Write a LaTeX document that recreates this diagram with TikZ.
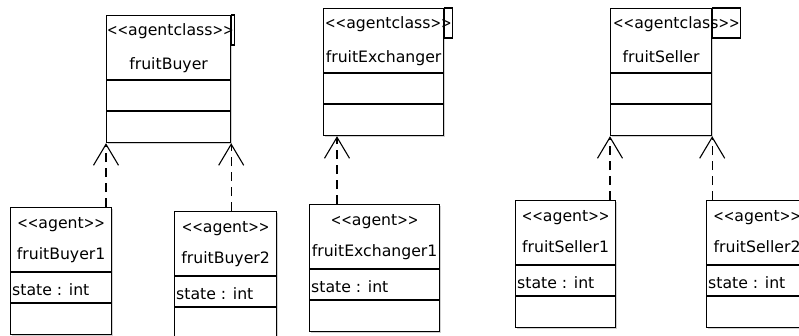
\documentclass[tikz,border=0pt]{standalone}
\usepackage{fontspec}
\usepackage{graphicx}
\setmainfont{DejaVu Sans}
\usetikzlibrary{arrows.meta,calc,shadows}
\pgfdeclarelayer{fg}
\pgfsetlayers{main,fg}
\newcommand\lsym{\scalebox{0.8}[1]{<}}
\newcommand\gsym{\scalebox{0.8}[1]{>}}
\newcommand\stereo[1]{\lsym\lsym#1\gsym\gsym}
\newcommand\umlagent[5]{% name, x, y, width, title
  \node[umlbox, minimum width=#4pt] (#1) at (#2,#3) {};
  \draw[sep] ($(#1.north west)+(0,65)$) -- ($(#1.north east)+(0,65)$);
  \draw[sep] ($(#1.north west)+(0,96)$) -- ($(#1.north east)+(0,96)$);
  \node[lbl] (#1-st) at ($(#1.north)+(0,19)$) {\stereo{agent}};
  \node[lbl] (#1-nm) at ($(#1.north)+(0,50)$) {#5};
  \node[lbl, anchor=west] (#1-at) at ($(#1.north west)+(2,86)$) {state : int};
}
\newcommand\umlclass[6]{% name, x, y, width, title, text offset
  \node[umlbox, minimum width=#4pt] (#1) at (#2,#3) {};
  \draw[sep] ($(#1.north west)+(0,65)$) -- ($(#1.north east)+(0,65)$);
  \draw[sep] ($(#1.north west)+(0,96)$) -- ($(#1.north east)+(0,96)$);
  \begin{pgfonlayer}{fg}
    \node[lbl, anchor=west] (#1-st) at ($(#1.north west)+(#6,18)$) {\stereo{agentclass}};
  \end{pgfonlayer}
  \coordinate (#1-tr) at (#1.north east -| #1-st.east);
  \draw[sep, fill=white] (#1.north east) rectangle ($(#1-tr)+(1,30)$);
  \node[lbl] (#1-nm) at ($(#1.north)+(0,52)$) {#5};
}
\begin{document}
\begin{tikzpicture}[x=1pt,y=-1pt,
  every node/.style={font=\fontsize{15.7}{18}\selectfont},
  umlbox/.style={draw, line width=1.2pt, anchor=north west, inner sep=0pt,
    minimum height=127pt, fill=white,
    general shadow={fill=black!18, shadow xshift=1.5pt, shadow yshift=-1.5pt}},
  lbl/.style={inner sep=0pt, text height=0.75em, text depth=0.22em},
  sep/.style={line width=1.2pt},
  realize/.style={dash pattern=on 9pt off 6pt, line width=1.1pt,
    -{Straight Barb[length=21pt,width=25pt,line width=1.1pt]}}
]
\useasboundingbox (0,0) rectangle (799,335);
\fill[white] (0,0) rectangle (799,335);
\clip (0,0) rectangle (799,335);

\umlclass{fb}{106}{15}{124}{fruitBuyer}{1}
\umlclass{fe}{323}{8}{120}{fruitExchanger}{2}
\umlclass{fs}{610}{8}{101}{fruitSeller}{3}

\umlagent{fba}{10}{207}{101}{fruitBuyer1}
\umlagent{fbb}{174}{211}{102}{fruitBuyer2}
\umlagent{fea}{309}{204}{130}{fruitExchanger1}
\umlagent{fsa}{515}{200}{100}{fruitSeller1}
\umlagent{fsb}{706}{200}{101}{fruitSeller2}

\coordinate (fetip) at ($(fe.south west)+(14,0)$);

\draw[realize] (fba.north -| fb.south west) -- (fb.south west);
\draw[realize] (fbb.north -| fb.south east) -- (fb.south east);
\draw[realize] (fea.north -| fetip) -- (fetip);
\draw[realize] (fsa.north -| fs.south west) -- (fs.south west);
\draw[realize] (fsb.north -| fs.south east) -- (fs.south east);
\end{tikzpicture}
\end{document}
